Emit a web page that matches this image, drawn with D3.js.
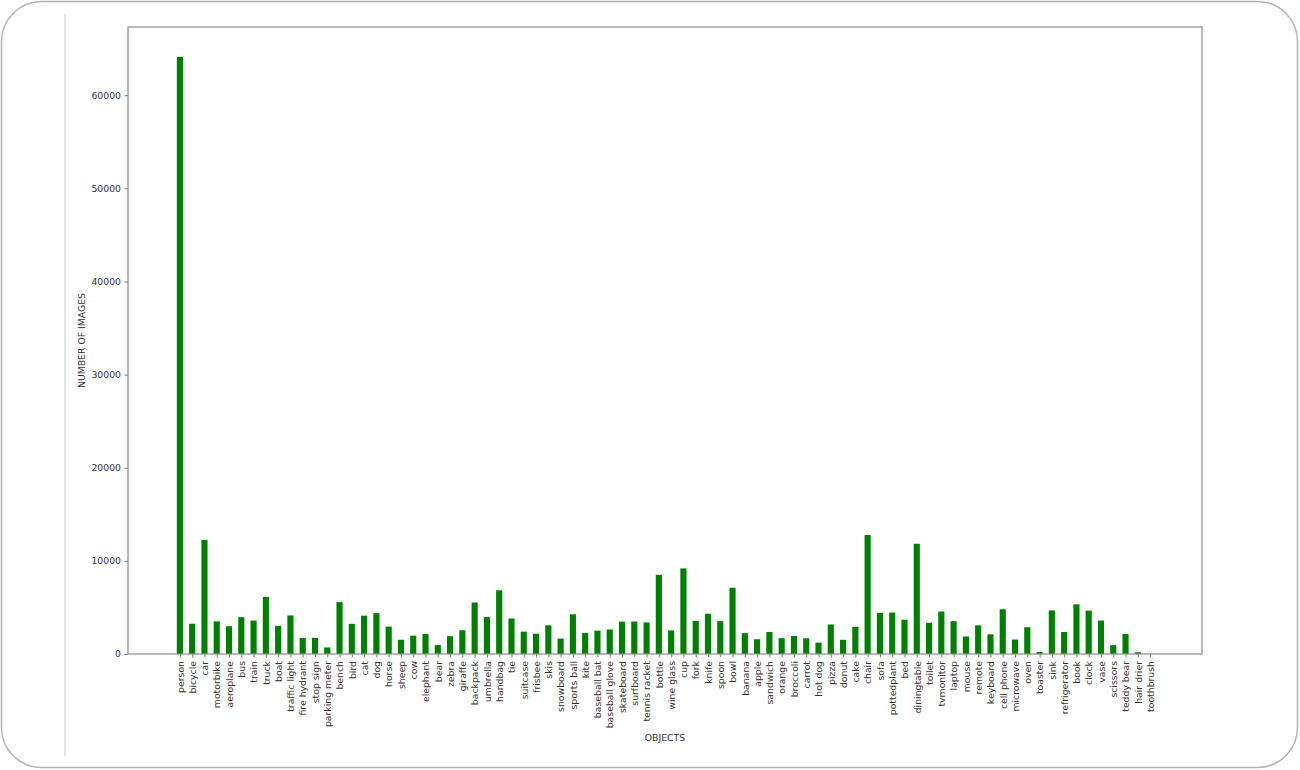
<!DOCTYPE html>
<html>
<head>
<meta charset="utf-8">
<script src="https://cdn.jsdelivr.net/npm/d3@7"></script>
<style>
  html, body { margin: 0; padding: 0; background: #fff; }
  svg { display: block; }
  text { font-family: "DejaVu Sans", sans-serif; fill: #333; }
</style>
</head>
<body>
<svg id="chart" width="1300" height="770"></svg>
<script>
const categories = ["person","bicycle","car","motorbike","aeroplane","bus","train","truck","boat","traffic light",
  "fire hydrant","stop sign","parking meter","bench","bird","cat","dog","horse","sheep","cow",
  "elephant","bear","zebra","giraffe","backpack","umbrella","handbag","tie","suitcase","frisbee",
  "skis","snowboard","sports ball","kite","baseball bat","baseball glove","skateboard","surfboard","tennis racket","bottle",
  "wine glass","cup","fork","knife","spoon","bowl","banana","apple","sandwich","orange",
  "broccoli","carrot","hot dog","pizza","donut","cake","chair","sofa","pottedplant","bed",
  "diningtable","toilet","tvmonitor","laptop","mouse","remote","keyboard","cell phone","microwave","oven",
  "toaster","sink","refrigerator","book","clock","vase","scissors","teddy bear","hair drier","toothbrush"];

const counts = [64115,3252,12251,3502,2986,3952,3588,6127,3025,4139,
  1711,1734,705,5570,3237,4114,4385,2941,1529,1968,
  2143,960,1916,2546,5528,3968,6841,3810,2402,2184,
  3082,1654,4262,2261,2506,2629,3476,3486,3394,8501,
  2533,9189,3555,4326,3529,7111,2243,1586,2365,1699,
  1939,1683,1222,3166,1523,2925,12774,4423,4452,3682,
  11837,3353,4561,3524,1876,3076,2115,4803,1547,2877,
  217,4678,2360,5332,4659,3593,947,2140,189,20];

const yTicks = [0,10000,20000,30000,40000,50000,60000];

const xLabel = "OBJECTS";
const yLabel = "NUMBER OF IMAGES";

const svg = d3.select("#chart");

// outer card frame
svg.append("rect").attr("x",1.5).attr("y",1.5).attr("width",1296).attr("height",766)
  .attr("rx",40).attr("ry",40).attr("fill","#fff").attr("stroke","#b4b4b4").attr("stroke-width",1.5);
svg.append("line").attr("x1",65).attr("x2",65).attr("y1",14).attr("y2",756)
  .attr("stroke","#d4d4d4").attr("stroke-width",1.2);

const L = 128, R = 1202, T = 27, B = 654;
const barW = 0.5;
const n = categories.length;
const pad = (n - 1 + barW) * 0.05 + barW / 2;
const x = d3.scaleLinear().domain([-pad, n - 1 + pad]).range([L, R]);
const yMax = d3.max(counts) * 1.05;
const y = d3.scaleLinear().domain([0, yMax]).range([B, T]);

const g = svg.append("g");

g.selectAll("rect.bar").data(counts).enter().append("rect")
  .attr("class","bar")
  .attr("x",(d,i)=>x(i - barW/2))
  .attr("width",(d,i)=>x(i + barW/2) - x(i - barW/2))
  .attr("y",d=>y(d))
  .attr("height",d=>B - y(d))
  .attr("fill","#008000");

// axes
const xAxis = d3.axisBottom(x).tickValues(d3.range(n)).tickFormat(i=>categories[i])
  .tickSize(3.5).tickPadding(3.5);
const xg = g.append("g").attr("transform",`translate(0,${B})`).call(xAxis);
xg.select(".domain").remove();
xg.selectAll(".tick line").attr("stroke","#555").attr("stroke-width",0.8);
xg.selectAll(".tick text")
  .attr("transform","rotate(-90)")
  .attr("x",-7).attr("y",0).attr("dy","0.35em")
  .attr("text-anchor","end")
  .style("font-size","9.3px").style("fill","#333");

const yAxis = d3.axisLeft(y).tickValues(yTicks).tickFormat(d3.format("d"))
  .tickSize(3.5).tickPadding(3.5);
const yg = g.append("g").attr("transform",`translate(${L},0)`).call(yAxis);
yg.select(".domain").remove();
yg.selectAll(".tick line").attr("stroke","#555").attr("stroke-width",0.8);
yg.selectAll(".tick text").style("font-size","9.3px").style("fill","#333");

// frame
g.append("rect").attr("x",L).attr("y",T).attr("width",R-L).attr("height",B-T)
  .attr("fill","none").attr("stroke","#8a8a8a").attr("stroke-width",1.2);

// labels
svg.append("text").attr("x",(L+R)/2).attr("y",741).attr("text-anchor","middle")
  .style("font-size","9.3px").text(xLabel);
svg.append("text").attr("transform",`translate(85,${(T+B)/2}) rotate(-90)`)
  .attr("text-anchor","middle").style("font-size","9.3px").text(yLabel);
</script>
</body>
</html>
